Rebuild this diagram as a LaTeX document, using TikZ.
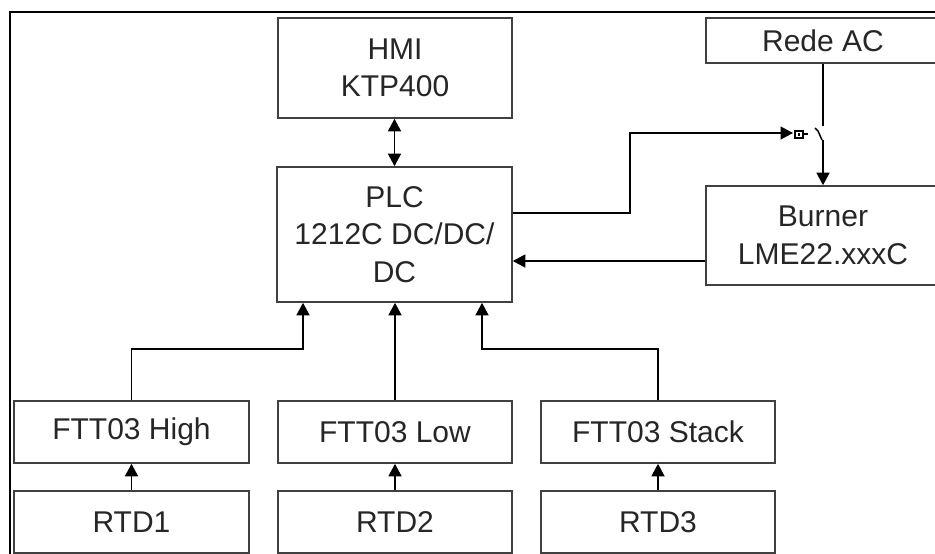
\documentclass[tikz,border=0pt]{standalone}
\usepackage{fontspec}
\setmainfont{Liberation Sans}
\usetikzlibrary{arrows.meta}
\tikzset{
  blk/.style={draw=black!75, line width=1.6pt, rectangle, inner sep=0pt, align=center,
    font=\fontsize{30}{37.5}\selectfont, text=black!85},
  conn/.style={draw=black, line width=1.4pt},
  tip/.tip={Triangle[length=12.5pt,width=13pt]},
  arr/.style={conn, -tip},
  darr/.style={conn, tip-tip}
}
\begin{document}
\begin{tikzpicture}[x=1pt,y=-1pt]
\useasboundingbox (0,0) rectangle (935,554);
% outer frame
\draw[line width=1.5pt] (10,570) -- (10,12) -- (950,12);
% blocks
\node[blk, minimum width=234pt, minimum height=100pt] (hmi) at (395,68) {HMI\\KTP400};
\node[blk, minimum width=235pt, minimum height=135pt] (plc) at (394.5,234.5) {PLC\\1212C DC/DC/\\DC};
\node[blk, minimum width=234pt, minimum height=45pt] (rede) at (823,40.5) {Rede AC};
\node[blk, minimum width=234pt, minimum height=99pt] (burner) at (823,235.5) {Burner\\LME22.xxxC};
\node[blk, minimum width=235pt, minimum height=62pt] (ftth) at (131.5,432) {FTT03 High};
\node[blk, minimum width=234pt, minimum height=62pt] (fttl) at (395,432) {FTT03 Low};
\node[blk, minimum width=234pt, minimum height=62pt] (ftts) at (658,432) {FTT03 Stack};
\node[blk, minimum width=235pt, minimum height=62pt] (rtd1) at (131.5,522) {RTD1};
\node[blk, minimum width=234pt, minimum height=62pt] (rtd2) at (395,522) {RTD2};
\node[blk, minimum width=234pt, minimum height=62pt] (rtd3) at (658,522) {RTD3};
% connectors
\draw[darr] (hmi.south -| plc.north) -- (plc.north);
\draw[arr] (rtd1.north) -- (ftth.south);
\draw[arr] (rtd2.north) -- (fttl.south);
\draw[arr] (rtd3.north) -- (ftts.south);
\coordinate (pin1) at ([xshift=-91.5pt]plc.south);
\coordinate (pin3) at ([xshift=87.5pt]plc.south);
\draw[arr] (ftth.north) |- (pin1 |- 0,349) -- (pin1);
\draw[arr] (fttl.north) -- (fttl.north |- plc.south);
\draw[arr] (ftts.north) |- (pin3 |- 0,349) -- (pin3);
\draw[arr] ([yshift=-25.5pt]burner.west) -- ([yshift=-25.5pt]burner.west -| plc.east);
% PLC output to the switch
\coordinate (plug) at (793,133);
\draw[arr] ([yshift=21.5pt]plc.east) -| (630,133) -- (plug);
\draw[line width=2pt, fill=white] (794.5,130.5) rectangle (803,138);
\fill (797.5,132.5) rectangle (800,136);
\draw[line width=1.4pt] (803,134) -- (808,134);
% switch
\coordinate (swtop) at (823,126);
\coordinate (swbot) at (823,140);
\draw[conn] (rede.south) -- (swtop);
\draw[line width=1.5pt] (815,128) -- (818,131) -- (822,140);
\draw[arr] (swbot) -- (burner.north);
\end{tikzpicture}
\end{document}
